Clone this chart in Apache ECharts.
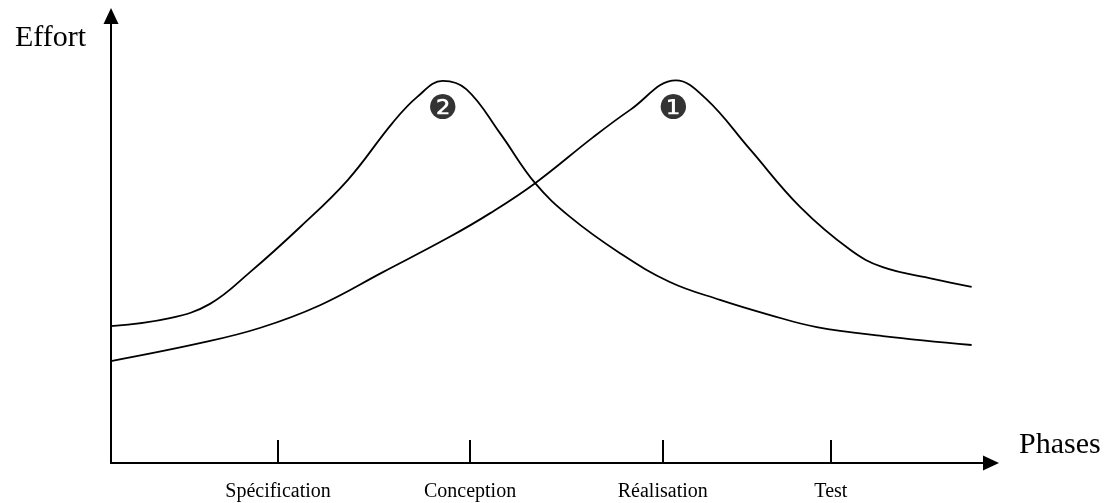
<!DOCTYPE html>
<html>
<head>
<meta charset="utf-8">
<script src="https://cdn.jsdelivr.net/npm/echarts@6/dist/echarts.min.js"></script>
<style>html,body{margin:0;padding:0;background:#fff}#c{width:1114px;height:503px}</style>
</head>
<body>
<div id="c"></div>
<script>
// Phase tick positions (x units) and labels
const phaseNames = ['Spécification', 'Conception', 'Réalisation', 'Test'];
const phaseTicks = [18.98, 40.8, 62.7, 81.8];

// Curve peaking during Conception (marker ❷)
const curveEarlyX = [0, 6.7, 11.25, 15.8, 21.5, 26.9, 32.0, 34.8, 37.7, 40.4, 44.2, 48.2, 52.2, 57.8, 63.5, 69.2, 74.9, 80.2, 87.7, 97.8];
const curveEarlyY = [30.6, 32.4, 35.6, 42.7, 52.8, 63.3, 76.1, 81.9, 85.5, 83.6, 73.8, 62.6, 55.0, 47.0, 40.5, 36.5, 33.1, 30.4, 28.4, 26.4];

// Curve peaking during Réalisation (marker ❶)
const curveLateX = [0, 10.1, 16.9, 23.75, 30.9, 38.5, 43.1, 48.2, 54.8, 59.0, 64.2, 67.6, 72.6, 78.3, 84.0, 87.7, 93.4, 97.8];
const curveLateY = [22.8, 26.8, 30.2, 35.3, 42.7, 50.6, 55.9, 62.6, 72.9, 79.0, 85.6, 81.5, 70.2, 57.3, 47.7, 43.8, 41.2, 39.4];

// Markers
const markerLabels = ['❷', '❶'];
const markerX = [37.7, 63.9];
const markerY = [79.0, 79.0];

const zip = (xs, ys) => xs.map((x, i) => [x, ys[i]]);

const chart = echarts.init(document.getElementById('c'), null, {renderer: 'canvas'});
const serif = '"Liberation Serif", "Times New Roman", serif';
chart.setOption({
  animation: false,
  backgroundColor: '#fff',
  grid: {left: 111, right: 123, top: 16, bottom: 40, containLabel: false},
  xAxis: {
    type: 'value', min: 0, max: 100,
    name: 'Phases', nameLocation: 'end', nameGap: 28,
    nameTextStyle: {fontFamily: serif, fontSize: 30, color: '#000', verticalAlign: 'bottom', lineHeight: 30, padding: [0, 0, 3, 0]},
    axisLine: {show: true, lineStyle: {color: '#000', width: 2}, symbol: ['none', 'triangle'], symbolSize: [15, 16]},
    axisTick: {show: true, inside: true, length: 23, lineStyle: {color: '#000', width: 2}, customValues: phaseTicks},
    axisLabel: {
      show: true, margin: 19, fontFamily: serif, fontSize: 20, color: '#000',
      customValues: phaseTicks,
      formatter: (v) => { const i = phaseTicks.indexOf(v); return i >= 0 ? phaseNames[i] : ''; }
    },
    splitLine: {show: false}
  },
  yAxis: {
    type: 'value', min: 0, max: 100,
    name: 'Effort', nameLocation: 'end', nameGap: -22,
    nameTextStyle: {fontFamily: serif, fontSize: 30, color: '#000', align: 'right', verticalAlign: 'middle', padding: [0, 25, 0, 0]},
    axisLine: {show: true, lineStyle: {color: '#000', width: 2}, symbol: ['none', 'triangle'], symbolSize: [15, 16]},
    axisTick: {show: false},
    axisLabel: {show: false},
    splitLine: {show: false}
  },
  series: [
    {type: 'line', data: zip(curveEarlyX, curveEarlyY), smooth: 0.4, showSymbol: false, lineStyle: {color: '#000', width: 1.8}},
    {type: 'line', data: zip(curveLateX, curveLateY), smooth: 0.4, showSymbol: false, lineStyle: {color: '#000', width: 1.8}},
    {
      type: 'scatter', symbolSize: 1, itemStyle: {color: 'rgba(0,0,0,0)'},
      data: markerX.map((x, i) => ({value: [x, markerY[i]], name: markerLabels[i]})),
      label: {show: true, position: 'inside', formatter: (p) => p.name, fontFamily: '"DejaVu Sans"', fontSize: 34, color: '#000'}
    }
  ]
});
</script>
</body>
</html>
